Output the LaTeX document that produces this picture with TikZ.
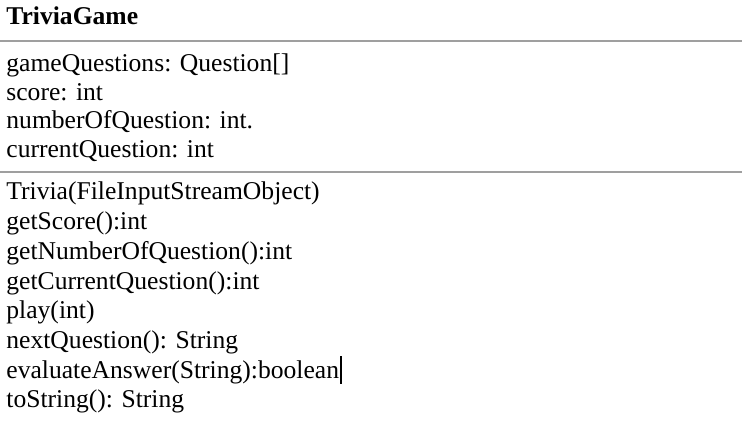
\documentclass[tikz,border=0pt]{standalone}
\usepackage{fontspec}
\setmainfont{Liberation Serif}
\usetikzlibrary{calc}

\tikzset{
	member/.style={anchor=base west, inner sep=0pt, font=\fontsize{12.8}{14}\selectfont},
	classname/.style={member, font=\fontsize{12.8}{14}\selectfont\bfseries},
	rule/.style={draw=gray!75, line width=1pt}
}

\begin{document}
\begin{tikzpicture}[x=0.5pt,y=0.5pt]

	\useasboundingbox (0,0) rectangle (742,426);

	\coordinate (L1) at (0,385);
	\coordinate (R1) at (742,385);
	\coordinate (L2) at (0,254);
	\coordinate (R2) at (742,254);

	\draw[rule] (L1) -- (R1);
	\draw[rule] (L2) -- (R2);

	\node[classname] (title) at (6,401) {TriviaGame};

	\node[member] (attrA) at (6,354)   {gameQuestions: Question[]};
	\node[member] (attrB) at (6,325.5) {score: int};
	\node[member] (attrC) at (6,297)   {numberOfQuestion: int.};
	\node[member] (attrD) at (6,268.5) {currentQuestion: int};

	\node[member] (opA) at (6,226)   {Trivia(FileInputStreamObject)};
	\node[member] (opB) at (6,196.3) {getScore():int};
	\node[member] (opC) at (6,166.6) {getNumberOfQuestion():int};
	\node[member] (opD) at (6,136.9) {getCurrentQuestion():int};
	\node[member] (opE) at (6,107.2) {play(int)};
	\node[member] (opF) at (6,77.5)  {nextQuestion(): String};
	\node[member] (opG) at (6,47.8)  {evaluateAnswer(String):boolean};
	\node[member] (opH) at (6,18.1)  {toString(): String};

	\coordinate (caretT) at ($(opG.base east)+(1.5,22)$);
	\coordinate (caretB) at ($(opG.base east)+(1.5,-6)$);
	\draw[line width=1pt] (caretT) -- (caretB);

\end{tikzpicture}
\end{document}
